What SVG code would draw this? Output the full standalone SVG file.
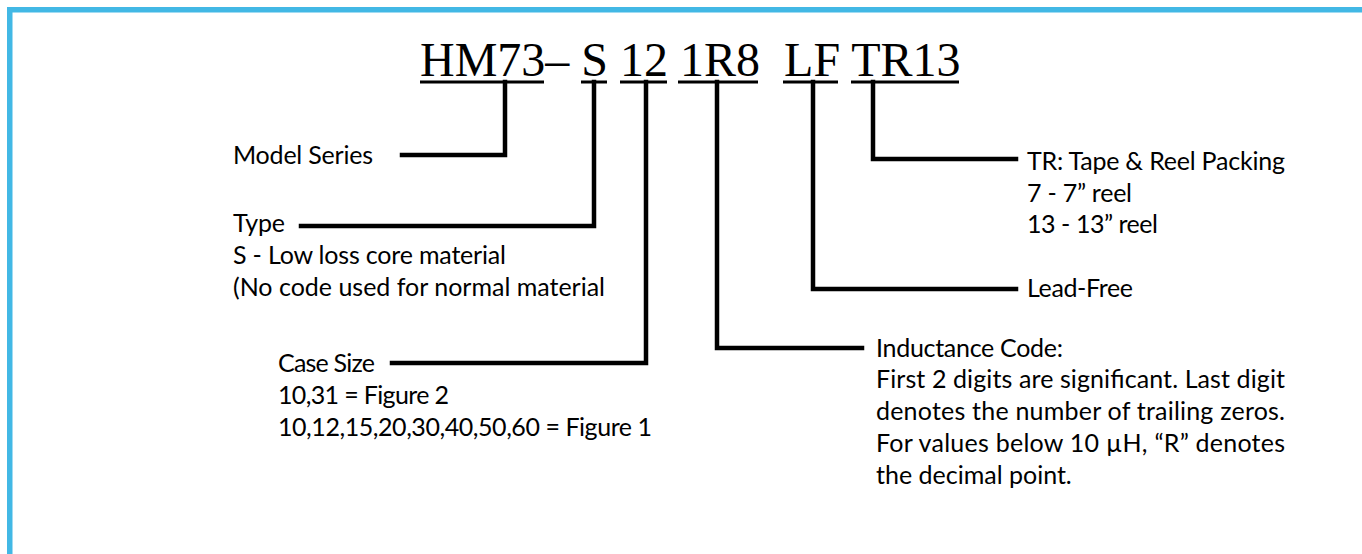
<svg xmlns="http://www.w3.org/2000/svg" width="1362" height="554" viewBox="0 0 1362 554">
  <style>
    .t{font-family:Lato,"Liberation Sans",sans-serif;font-size:25px;fill:#000}
    .title{font-family:"Liberation Serif","Times New Roman",serif;font-size:48px;fill:#000}
    .ul{stroke:#000;stroke-width:3;fill:none}
    .c{stroke:#000;stroke-width:4.5;fill:none;stroke-linejoin:miter;stroke-linecap:square}
  </style>
  <rect width="1362" height="554" fill="#fff"/>
  <rect id="frame" x="9.75" y="9.75" width="1400" height="600" fill="none" stroke="#42B8E5" stroke-width="5.5"/>

  <g id="title">
    <text class="title" x="420" y="76" xml:space="preserve">HM73– S 12 1R8  LF TR13</text>
    <line class="ul" x1="420" y1="82" x2="544" y2="82"/>
    <line class="ul" x1="581" y1="82" x2="607" y2="82"/>
    <line class="ul" x1="620" y1="82" x2="667" y2="82"/>
    <line class="ul" x1="678" y1="82" x2="758" y2="82"/>
    <line class="ul" x1="783" y1="82" x2="838" y2="82"/>
    <line class="ul" x1="851" y1="82" x2="959" y2="82"/>
  </g>

  <g id="connectors">
    <path class="c" d="M505,82 V155 H402"/>
    <path class="c" d="M594,82 V226 H301"/>
    <path class="c" d="M646,82 V363 H392"/>
    <path class="c" d="M717,82 V348 H862"/>
    <path class="c" d="M813,82 V289 H1016"/>
    <path class="c" d="M873,82 V159 H1016"/>
  </g>

  <g id="model-series">
    <text class="t" x="233" y="164" textLength="140">Model Series</text>
  </g>
  <g id="type">
    <text class="t" x="233" y="232" textLength="52">Type</text>
    <text class="t" x="233" y="264" textLength="273">S - Low loss core material</text>
    <text class="t" x="233" y="296" textLength="372">(No code used for normal material</text>
  </g>
  <g id="case-size">
    <text class="t" x="278" y="372" textLength="97">Case Size</text>
    <text class="t" x="278" y="404" textLength="171">10,31 = Figure 2</text>
    <text class="t" x="278" y="436" textLength="374">10,12,15,20,30,40,50,60 = Figure 1</text>
  </g>
  <g id="inductance">
    <text class="t" x="876" y="357" textLength="187">Inductance Code:</text>
    <text class="t" x="876" y="388" textLength="409">First 2 digits are significant. Last digit</text>
    <text class="t" x="876" y="420" textLength="409">denotes the number of trailing zeros.</text>
    <text class="t" x="876" y="452" textLength="409">For values below 10 µH, “R” denotes</text>
    <text class="t" x="876" y="484">the decimal point.</text>
  </g>
  <g id="lead-free">
    <text class="t" x="1027" y="297" textLength="106">Lead-Free</text>
  </g>
  <g id="packing">
    <text class="t" x="1027" y="170" textLength="258">TR: Tape &amp; Reel Packing</text>
    <text class="t" x="1027" y="202" textLength="105">7 - 7” reel</text>
    <text class="t" x="1027" y="233" textLength="131">13 - 13” reel</text>
  </g>
</svg>
